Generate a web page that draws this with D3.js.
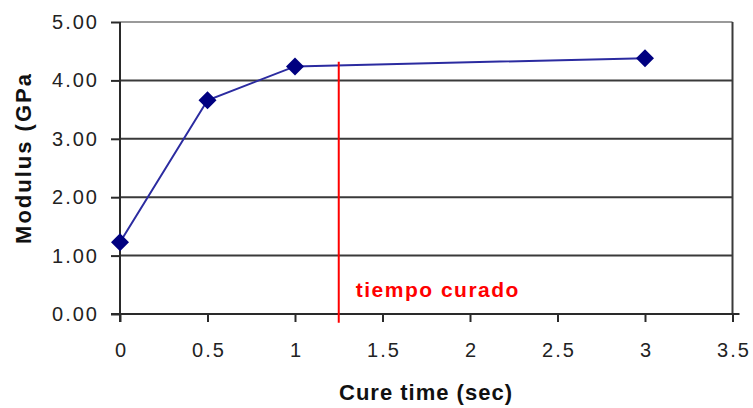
<!DOCTYPE html>
<html><head><meta charset="utf-8">
<script src="https://cdn.jsdelivr.net/npm/d3@7"></script>
<style>body{margin:0;background:#fff}svg{display:block}</style>
</head><body>
<svg id="c" width="753" height="408"></svg>
<script>
const cureTime = [0, 0.5, 1, 3];
const modulus = [1.23, 3.66, 4.24, 4.38];
const markerTime = [1.25, 1.25];
const markerY = [4.32, -0.15];
const xTicks = [0, 0.5, 1, 1.5, 2, 2.5, 3, 3.5];
const yTicks = [0, 1, 2, 3, 4, 5];
const xTitle = "Cure time (sec)";
const yTitle = "Modulus (GPa";
const annotation = "tiempo curado";

const svg = d3.select("#c");
const x = d3.scaleLinear().domain([0, 3.5]).range([120, 732.5]);
const y = d3.scaleLinear().domain([0, 5]).range([314, 22]);
const font = "'Liberation Sans', Arial, sans-serif";

// gridlines
svg.append("g").selectAll("line").data(yTicks.filter(d => d > 0)).join("line")
  .attr("x1", x(0)).attr("x2", x(3.5))
  .attr("y1", d => y(d)).attr("y2", d => y(d))
  .attr("stroke", d => d === 5 ? "#9a9a9a" : "#3a3a3a").attr("stroke-width", 2);
// right border
svg.append("line").attr("x1", x(3.5)).attr("x2", x(3.5)).attr("y1", y(5)).attr("y2", y(0))
  .attr("stroke", "#3a3a3a").attr("stroke-width", 2);

// y axis
const yAxis = d3.axisLeft(y).tickValues(yTicks).tickFormat(d3.format(".2f")).tickSize(9).tickPadding(12);
const gy = svg.append("g").attr("transform", `translate(${x(0)},0)`).call(yAxis);
gy.select(".domain").attr("stroke", "#2a2a2a").attr("stroke-width", 2).attr("d", `M0,${y(5)}V${y(0) + 8}`);
gy.selectAll(".tick line").attr("stroke", "#2a2a2a").attr("stroke-width", 2);
gy.selectAll("text").attr("font-family", font).attr("font-size", 20).attr("letter-spacing", 2).attr("fill", "#222");

// x axis
const xAxis = d3.axisBottom(x).tickValues(xTicks).tickFormat(d => d3.format("")(d)).tickSize(8).tickPadding(21);
const gx = svg.append("g").attr("transform", `translate(0,${y(0)})`).call(xAxis);
gx.select(".domain").attr("stroke", "#2a2a2a").attr("stroke-width", 2).attr("d", `M${x(0) - 9},0H${x(3.5) + 7}`);
gx.selectAll(".tick line").attr("stroke", "#2a2a2a").attr("stroke-width", 2);
gx.selectAll("text").attr("font-family", font).attr("font-size", 20).attr("letter-spacing", 2).attr("dx", 1).attr("fill", "#222");

// titles
svg.append("text").attr("x", 426).attr("y", 400).attr("text-anchor", "middle")
  .attr("font-family", font).attr("font-weight", "bold").attr("font-size", 22).attr("letter-spacing", 1).attr("fill", "#111")
  .text(xTitle);
svg.append("text").attr("transform", "translate(31,158) rotate(-90)").attr("text-anchor", "middle")
  .attr("font-family", font).attr("font-weight", "bold").attr("font-size", 22).attr("letter-spacing", 2).attr("fill", "#111")
  .text(yTitle);

// data line
const pts = cureTime.map((t, i) => [t, modulus[i]]);
svg.append("path").datum(pts)
  .attr("d", d3.line().x(d => x(d[0])).y(d => y(d[1])))
  .attr("fill", "none").attr("stroke", "#2b2ba0").attr("stroke-width", 2);

// red marker line
const rl = markerTime.map((t, i) => [t, markerY[i]]);
svg.append("path").datum(rl)
  .attr("d", d3.line().x(d => x(d[0])).y(d => y(d[1])))
  .attr("stroke", "#ff0000").attr("stroke-width", 2);

// markers
svg.append("g").selectAll("path").data(pts).join("path")
  .attr("transform", d => `translate(${x(d[0])},${y(d[1])})`)
  .attr("d", "M0,-9L9,0L0,9L-9,0Z").attr("fill", "#000080");

// annotation
svg.append("text").attr("x", x(1.25) + 17).attr("y", 297)
  .attr("font-family", font).attr("font-weight", "bold").attr("font-size", 21).attr("letter-spacing", 1.5).attr("fill", "#ff0000")
  .text(annotation);
</script>
</body></html>
